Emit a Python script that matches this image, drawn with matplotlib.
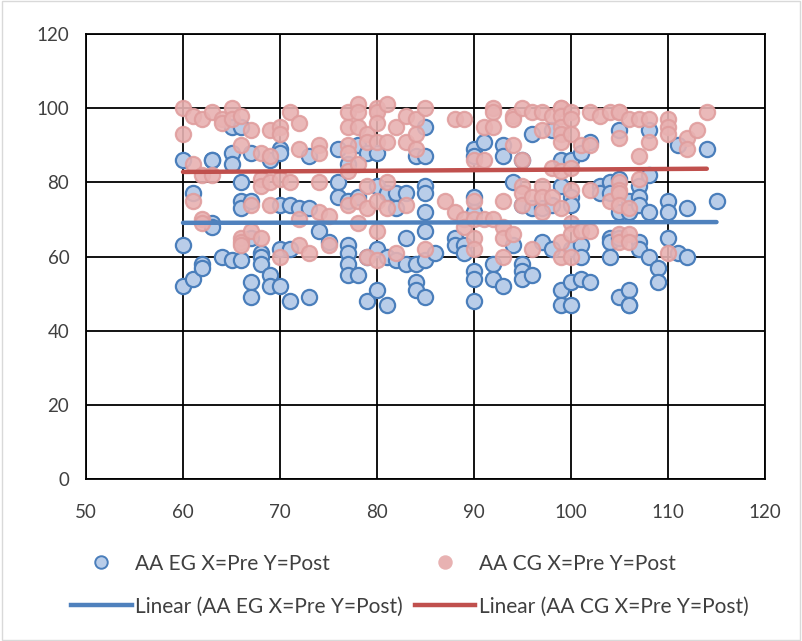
import numpy as np
import matplotlib.pyplot as plt
from matplotlib.lines import Line2D
from matplotlib.patches import Rectangle

# Post scores, grouped by Pre score (x);
# repeated values are overlapping students at the same spot
eg_points = {
    60: [86, 63, 52], 61: [77, 54], 62: [58, 57], 63: [86, 86, 69, 68], 64: [60],
    65: [95, 88, 85, 59], 66: [95, 80, 75, 73, 59], 67: [88, 75, 65, 53, 49],
    68: [61, 60, 58], 69: [86, 55, 52], 70: [89, 88, 74, 62, 52], 71: [74, 62, 48],
    72: [73], 73: [87, 73, 49], 74: [67], 75: [64], 76: [89, 80, 76],
    77: [85, 75, 63, 61, 58, 55], 78: [90, 76, 55], 79: [88, 60, 48],
    80: [88, 79, 62, 51], 81: [77, 60, 47], 82: [77, 73, 59], 83: [77, 65, 58],
    84: [87, 58, 53, 51], 85: [95, 87, 79, 77, 72, 67, 59, 49], 86: [61],
    88: [65, 63], 89: [63, 61], 90: [89, 87, 76, 72, 56, 54, 48], 91: [91],
    92: [58, 54], 93: [90, 87, 52], 94: [80, 63], 95: [86, 74, 58, 56, 54],
    96: [93, 73, 55], 97: [73, 64], 98: [94, 74, 62], 99: [86, 79, 51, 47],
    100: [86, 76, 74, 62, 53, 47], 101: [88, 63, 60, 54], 102: [91, 53],
    103: [79, 77], 104: [80, 77, 65, 64, 60], 105: [94, 81, 72, 65, 49],
    106: [75, 72, 51, 47, 47], 107: [79, 76, 74, 64, 62], 108: [94, 82, 72, 60],
    109: [57, 53], 110: [75, 72, 65], 111: [90, 61], 112: [73, 60],
    114: [89], 115: [75],
}
cg_points = {
    60: [100, 93], 61: [98, 85, 75], 62: [97, 82, 70, 69], 63: [99, 82], 64: [97, 96],
    65: [100, 97], 66: [98, 90, 65, 64, 63], 67: [94, 74, 67], 68: [88, 81, 79, 65],
    69: [94, 87, 80, 74], 70: [95, 93, 81, 60], 71: [99, 80], 72: [96, 89, 70, 63],
    73: [61], 74: [90, 88, 80, 72], 75: [71, 63], 77: [99, 95, 90, 88, 83, 74],
    78: [101, 99, 95, 85, 75, 69], 79: [93, 91, 79, 73, 60],
    80: [100, 99, 96, 91, 75, 67, 59], 81: [101, 91, 80, 73], 82: [95, 61],
    83: [98, 91, 74], 84: [97, 93, 89], 85: [100, 62], 87: [75], 88: [97, 72],
    89: [97, 70, 68], 90: [86, 75, 70, 65, 62], 91: [95, 86, 70],
    92: [100, 99, 95, 70], 93: [75, 68, 65, 60], 94: [98, 97, 90, 66],
    95: [100, 86, 79, 77, 74], 96: [99, 76, 62], 97: [99, 94, 79, 76, 72],
    98: [98, 84, 76], 99: [100, 100, 98, 95, 93, 91, 83, 73, 64, 60],
    100: [99, 97, 93, 84, 78, 69, 66, 60], 101: [90, 67], 102: [99, 90, 78, 67],
    103: [98], 104: [99, 75], 105: [99, 99, 92, 80, 78, 77, 74, 66, 64],
    106: [97, 73, 66, 64], 107: [97, 87, 81], 108: [97, 91],
    110: [97, 95, 93, 61], 112: [92, 89], 113: [94], 114: [99],
}

eg_x = np.array([x for x, ys in eg_points.items() for _ in ys], dtype=float)
eg_y = np.array([y for ys in eg_points.values() for y in ys], dtype=float)
cg_x = np.array([x for x, ys in cg_points.items() for _ in ys], dtype=float)
cg_y = np.array([y for ys in cg_points.values() for y in ys], dtype=float)

eg_label = "AA EG X=Pre Y=Post"
cg_label = "AA CG X=Pre Y=Post"

plt.rcParams["font.family"] = ["Lato", "DejaVu Sans"]
text_color = "#404040"

fig = plt.figure(figsize=(8.02, 6.41), dpi=100)
ax = fig.add_axes([86 / 802, 1 - 479 / 641, (765 - 86) / 802, (479 - 34) / 641])

ax.scatter(eg_x, eg_y, s=120, facecolor="#B9CDE9", edgecolor="#4A7EBB",
           linewidth=1.6, zorder=3)
ax.scatter(cg_x, cg_y, s=120, facecolor="#E8B2B2", edgecolor="#E09E9E",
           linewidth=1.6, alpha=0.9, zorder=4)

# linear trendlines fitted to the data
for xs, ys, col in [(eg_x, eg_y, "#4F81BD"), (cg_x, cg_y, "#C0504D")]:
    k, b = np.polyfit(xs, ys, 1)
    xx = np.array([xs.min(), xs.max()])
    ax.plot(xx, k * xx + b, color=col, linewidth=3.2, solid_capstyle="round", zorder=5)

ax.set_xlim(50, 120)
ax.set_ylim(0, 120)
ax.set_xticks(range(50, 121, 10))
ax.set_yticks(range(0, 121, 20))
ax.grid(True, color="black", linewidth=1.3)
ax.set_axisbelow(True)
for sp in ax.spines.values():
    sp.set_color("black")
    sp.set_linewidth(1.3)
ax.tick_params(length=0, labelsize=13.5, colors=text_color)
ax.tick_params(axis="y", pad=12)
ax.tick_params(axis="x", pad=18)

handles = [
    Line2D([], [], linestyle="none", marker="o", markersize=9,
           markerfacecolor="#B9CDE9", markeredgecolor="#4A7EBB", markeredgewidth=1.4),
    Line2D([], [], color="#4F81BD", linewidth=3.2),
    Line2D([], [], linestyle="none", marker="o", markersize=9,
           markerfacecolor="#E8B2B2", markeredgecolor="#E8B2B2", markeredgewidth=1.4),
    Line2D([], [], color="#C0504D", linewidth=3.2),
]
labels = [eg_label, "Linear (" + eg_label + ")", cg_label, "Linear (" + cg_label + ")"]
fig.legend(handles, labels, ncol=2, loc="center", bbox_to_anchor=(0.511, 1 - 585 / 641),
           frameon=False, fontsize=15, labelcolor=text_color, handlelength=2.9,
           handletextpad=0.15, columnspacing=0.6, labelspacing=1.1)

fig.patches.append(Rectangle((0.002, 0.002), 0.996, 0.996, transform=fig.transFigure,
                             fill=False, edgecolor="#D9D9D9", linewidth=1.0))

fig.savefig("out.png", dpi=100)
